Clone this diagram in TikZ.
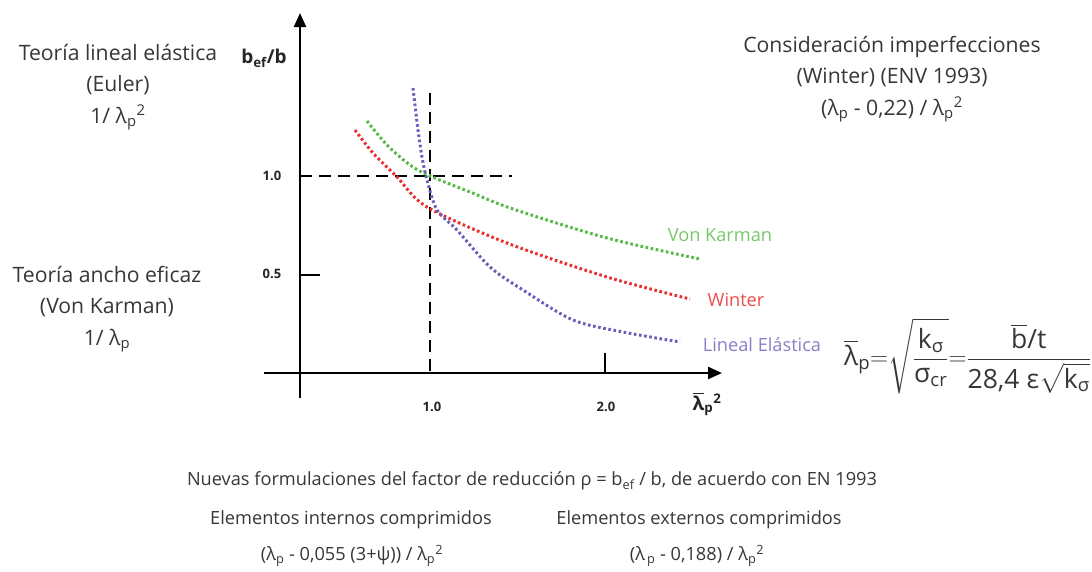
\documentclass[tikz,border=0pt]{standalone}
\usepackage{amsmath}
\usepackage{fontspec}
\setmainfont{Open Sans}
\usetikzlibrary{arrows.meta, positioning, calc}
\definecolor{txtgray}{RGB}{55,55,55}
\definecolor{vkgreen}{RGB}{85,185,70}
\definecolor{wred}{RGB}{235,45,45}
\definecolor{lepurple}{RGB}{105,95,185}
\newcommand{\lamp}{λ\textsubscript{p}}

\begin{document}
\begin{tikzpicture}[x=1pt, y=-1pt,
  note/.style={text=txtgray, font=\fontsize{21.2}{31.5}\selectfont, align=center, inner sep=0pt},
  small note/.style={text=txtgray, font=\fontsize{18.2}{21}\selectfont, inner sep=0pt},
  ticklab/.style={font=\bfseries\fontsize{13}{15}\selectfont, text=black!85},
  axis/.style={line width=2.3pt, -{Triangle[length=14pt, width=12pt]}},
  guide/.style={line width=1.1pt, dash pattern=on 12pt off 7pt},
  curve/.style={line width=3pt, dash pattern=on 2.6pt off 2.6pt},
  ]
\useasboundingbox (0,0) rectangle (1092,571);

% Axes
\coordinate (ybot) at (300,398);
\coordinate (ytop) at (300,13);
\coordinate (xleft) at (264,373);
\coordinate (xend) at (722,373);
\draw[axis] (ybot) -- (ytop);
\draw[axis] (xleft) -- (xend);

% Ticks and guide lines
\coordinate (y1a) at (300,176);
\coordinate (y1b) at (512,176);
\coordinate (y5a) at (300,275);
\coordinate (y5b) at (320,275);
\coordinate (x1a) at (430,93);
\coordinate (x1b) at (430,373);
\coordinate (x2a) at (605,353);
\coordinate (x2b) at (605,373);
\draw[guide] (y1a) -- (y1b);
\draw[guide] (x1a) -- (x1b);
\draw[line width=1.1pt] (y5a) -- (y5b);
\draw[line width=1.1pt] (x2a) -- (x2b);

\node[ticklab] (ylab1) at (272,176) {1.0};
\node[ticklab] (ylab5) at (272,274) {0.5};
\node[ticklab] (xlab1) at (432,407) {1.0};
\node[ticklab] (xlab2) at (606,407) {2.0};
\node[font=\bfseries\fontsize{19}{21}\selectfont, text=black!85] (ylab) at (264,58) {b\textsubscript{ef}/b};
\node[font=\bfseries\fontsize{19}{21}\selectfont, text=black!85] (xlab) at (707,404) {$\overline{\hbox{λ}}$\textsubscript{p}\textsuperscript{2}};

% Curves
\draw[curve, vkgreen] plot[smooth] coordinates {(367,121) (387,145) (410,165) (430,176) (470,192) (513,209) (607,238) (700,259)};
\draw[curve, wred] plot[smooth] coordinates {(355,130) (373,153) (397,177) (427,207) (507,243) (607,277) (690,299)};
\draw[curve, lepurple] plot[smooth] coordinates {(413,88) (418,130) (422,157) (427,180) (437,210) (457,230) (490,267) (523,290) (573,320) (623,332) (680,342)};

\node[small note, text=vkgreen!80] (vk) at (720,235) {Von Karman};
\node[small note, text=wred!85] (wi) at (736,300) {Winter};
\node[small note, text=lepurple!80] (le) at (762,345) {Lineal Elástica};

% Side notes
\node[note] (euler) at (118,87) {Teoría lineal elástica\\(Euler)\\1/ \lamp\textsuperscript{2}};
\node[note] (karman) at (107,309) {Teoría ancho eficaz\\(Von Karman)\\1/ \lamp};
\node[note] (winter) at (892,79) {Consideración imperfecciones\\(Winter) (ENV 1993)\\(\lamp{} - 0,22) / \lamp\textsuperscript{2}};

% Slenderness formula
\node[anchor=west, text=txtgray, font=\fontsize{26.5}{30}\selectfont, inner sep=0pt] (slender) at (844,356)
  {$\overline{\hbox{λ}}_{\text{p}}{=}\sqrt{\dfrac{\text{k}_{\text{σ}}}{\text{σ}_{\text{cr}}}}{=}\dfrac{\overline{\hbox{b}}\hbox{/t}}{\hbox{28,4 ε}\sqrt{\text{k}_{\text{σ}}}}$};

% Bottom notes
\node[small note] (nuevas) at (532,481) {Nuevas formulaciones del factor de reducción ρ = b\textsubscript{ef} / b, de acuerdo con EN 1993};
\node[small note] (internos) at (351,520) {Elementos internos comprimidos};
\node[small note] (externos) at (699,520) {Elementos externos comprimidos};
\node[small note] (fint) at (352,556) {(\lamp{} - 0,055 (3+ψ)) / \lamp\textsuperscript{2}};
\node[small note] (fext) at (697,556) {(λ\textsubscript{\,p} - 0,188) / \lamp\textsuperscript{2}};
\end{tikzpicture}
\end{document}
